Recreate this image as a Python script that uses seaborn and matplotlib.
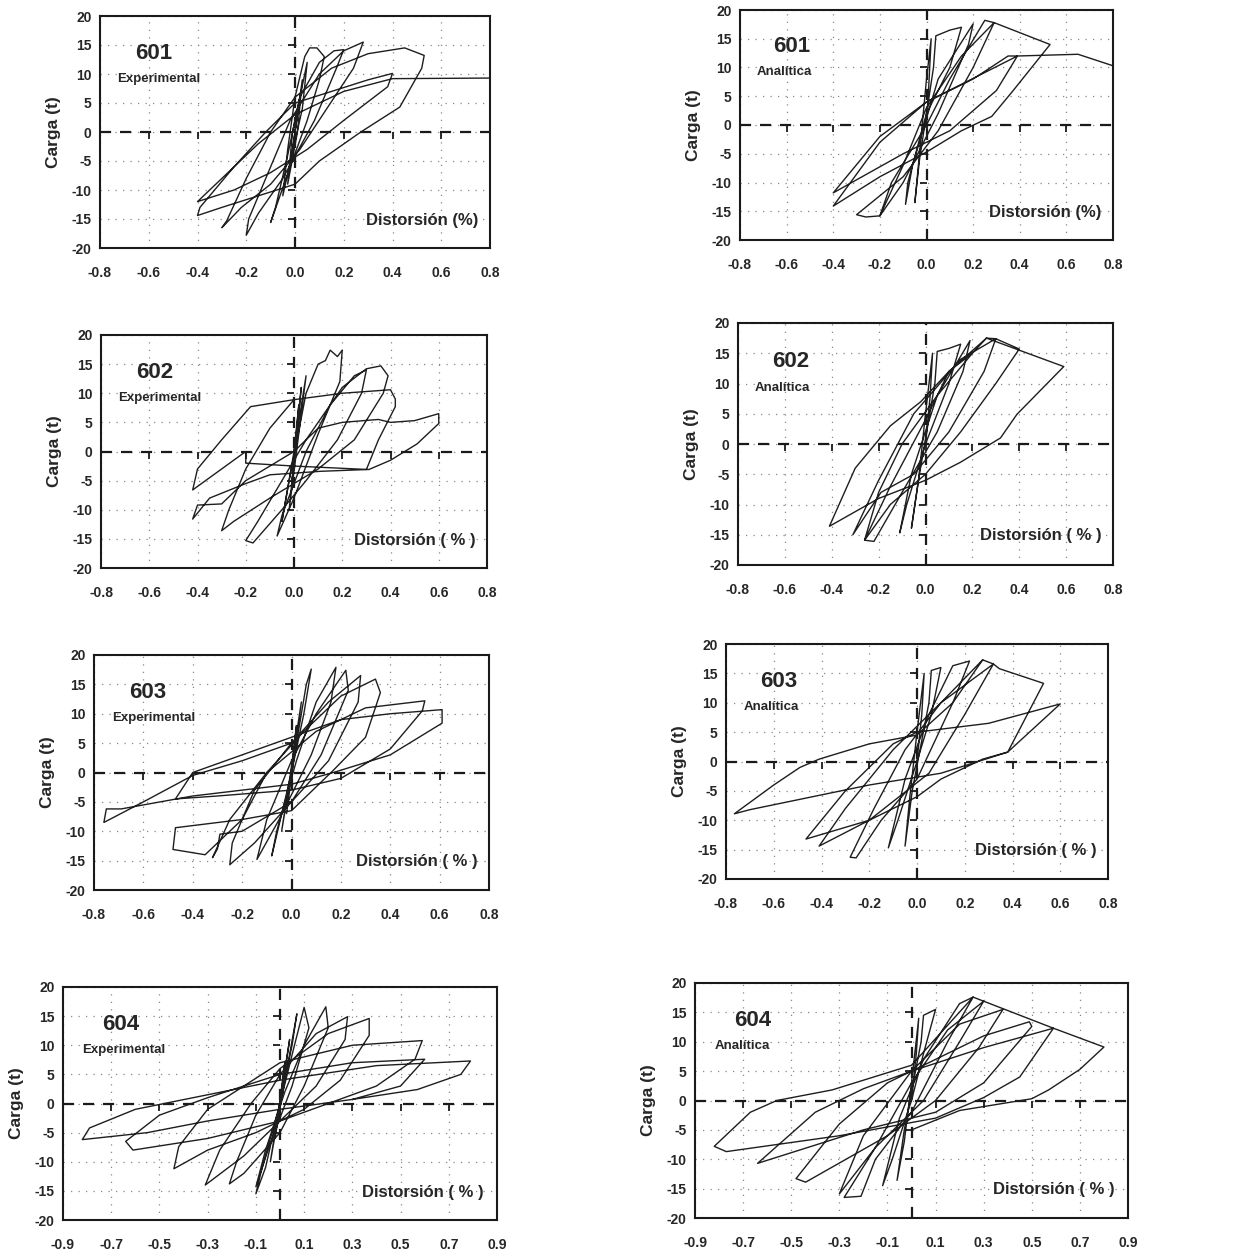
import matplotlib
matplotlib.use("Agg")
import matplotlib.pyplot as plt
import seaborn as sns
import pandas as pd

sns.set_theme(style="white")
plt.rcParams['font.family'] = ['Liberation Sans', 'DejaVu Sans']
plt.rcParams['font.weight'] = 'bold'
plt.rcParams['axes.unicode_minus'] = False

# hysteresis loops: (distorsion %, carga t)
loop_601_exp = [
    (0, 0), (0.02, 6), (0.0, 0), (-0.02, -6), (0.0, 0),
    (0.03, 9), (0.01, 0), (-0.03, -9), (-0.01, 0),
    (0.05, 12), (0.03, 4), (-0.05, -11), (-0.03, -3),
    (0.0, 6), (0.04, 13), (0.06, 14.5), (0.09, 14.5), (0.12, 13), (0.1, 9), (0.05, 2),
    (-0.02, -6), (-0.07, -12), (-0.1, -15.6), (-0.08, -13), (-0.03, -4),
    (0.02, 6), (0.1, 12), (0.16, 14), (0.2, 14.2), (0.17, 11), (0.08, 2), (-0.05, -8),
    (-0.15, -14), (-0.2, -17.8), (-0.19, -15), (-0.12, -8), (-0.02, 2),
    (0.1, 10), (0.2, 14), (0.28, 15.5), (0.24, 11), (0.13, 4), (0.02, -3), (-0.1, -9),
    (-0.22, -13), (-0.3, -16.5), (-0.28, -15.3), (-0.2, -8), (-0.1, 0), (0.0, 6),
    (0.15, 11), (0.3, 13.5), (0.45, 14.5), (0.53, 13.2), (0.52, 11), (0.43, 4.3), (0.27, 0),
    (0.1, -5), (0.0, -9), (-0.15, -11), (-0.3, -13), (-0.4, -14.4), (-0.39, -13),
    (-0.25, -6), (-0.12, 0), (0.0, 5),
    (0.15, 7), (0.3, 9), (0.4, 10.1), (0.38, 7.8), (0.2, 2), (0.05, -3), (-0.1, -7),
    (-0.25, -10), (-0.4, -12), (-0.3, -8), (-0.15, -2), (0.0, 3), (0.2, 7), (0.4, 9.2), (0.8, 9.3),
]

loop_601_ana = [
    (0, 0), (0.01, 7), (0.02, 15), (0.0, 8), (-0.03, -5), (-0.05, -13.5), (-0.03, -6),
    (0.03, 10), (0.04, 15.5), (0.1, 16.5), (0.15, 17), (0.1, 10), (0.0, 2), (-0.08, -10),
    (-0.09, -13.8), (-0.06, -7), (0.05, 8), (0.2, 17.6), (0.18, 14), (0.05, 2), (-0.1, -10),
    (-0.2, -15.8), (-0.15, -10), (0.0, 0), (0.1, 8), (0.25, 18.2), (0.29, 17.8), (0.2, 10),
    (0.05, -1), (-0.1, -9), (-0.3, -15.6), (-0.26, -16), (-0.2, -15.8), (-0.1, -7), (0.0, 3),
    (0.15, 12), (0.29, 17.8), (0.53, 14), (0.37, 5.9), (0.28, 1.5), (0.15, -1), (0.0, -4.7),
    (-0.2, -9), (-0.4, -14.1), (-0.2, -3), (0.0, 4), (0.2, 8), (0.35, 12), (0.39, 12),
    (0.3, 6), (0.1, -1), (-0.1, -5), (-0.4, -11.8), (-0.2, -2), (0.0, 4), (0.39, 12),
    (0.65, 12.3), (0.8, 10.3),
]

loop_602_exp = [
    (0, 0), (0.02, 8), (-0.01, -6), (0.03, 11), (-0.02, -10), (0.05, 13), (0.0, 0),
    (-0.05, -12), (-0.02, -5), (0.05, 10), (0.1, 15), (0.13, 15.6), (0.15, 17.4),
    (0.18, 16.3), (0.2, 17.4), (0.19, 12), (0.1, 3), (0.0, -8), (-0.07, -14.5), (-0.05, -11),
    (0.05, 0), (0.15, 8), (0.25, 13), (0.3, 14), (0.28, 10), (0.18, 2), (0.05, -5),
    (-0.05, -10), (-0.17, -15.7), (-0.2, -15.3), (-0.15, -12), (-0.05, -5), (0.05, 2),
    (0.2, 11), (0.3, 14.2), (0.36, 14.7), (0.39, 13), (0.37, 10), (0.25, 2), (0.1, -3),
    (-0.1, -8), (-0.25, -12), (-0.3, -13.6), (-0.27, -10), (-0.2, -3), (-0.1, 4), (0.0, 8.9),
    (0.2, 10), (0.4, 10.6), (0.42, 9), (0.42, 7.7), (0.35, 2), (0.3, -3.1), (0.11, -3.4),
    (-0.1, -4), (-0.2, -5.5), (-0.35, -8), (-0.42, -11.6), (-0.4, -9.2), (-0.3, -9),
    (-0.2, -5), (0.0, 0), (0.1, 4), (0.2, 5), (0.35, 5.5), (0.4, 5), (0.5, 5.3), (0.6, 6.5),
    (0.6, 4.8), (0.51, 1.3), (0.4, -1.5), (0.31, -3.1), (0.0, -2.5), (-0.2, -2), (-0.2, 0),
    (-0.3, -3), (-0.42, -6.6), (-0.4, -3), (-0.3, 2), (-0.18, 7.7), (0.0, 8.9),
]

loop_602_ana = [
    (0, 0), (0.02, 8), (0.03, 15), (0.0, 5), (-0.03, -6), (-0.06, -13.9), (-0.03, -6),
    (0.04, 10), (0.05, 15.3), (0.1, 15.8), (0.15, 16.5), (0.1, 10), (0.0, 0), (-0.08, -10),
    (-0.11, -14.7), (-0.06, -5), (0.05, 8), (0.19, 17.1), (0.16, 12), (0.05, 2), (-0.1, -8),
    (-0.22, -16.1), (-0.26, -15.9), (-0.15, -7), (0.0, 4), (0.1, 12), (0.26, 17.5),
    (0.3, 17.4), (0.25, 12), (0.1, 2), (-0.05, -5), (-0.19, -8), (-0.31, -15), (-0.2, -6),
    (-0.05, 5), (0.15, 14), (0.3, 17.4), (0.4, 15.7), (0.3, 10), (0.15, 2), (0.0, -5),
    (-0.15, -10), (-0.26, -15.9), (-0.2, -8), (-0.1, 0), (0.05, 8), (0.2, 15), (0.26, 17.5),
    (0.59, 12.8), (0.39, 4.9), (0.32, 1), (0.15, -3), (0.0, -6), (-0.2, -9), (-0.41, -13.6),
    (-0.3, -4), (-0.15, 3), (-0.02, 7), (0.1, 12), (0.2, 15),
]

loop_603_exp = [
    (0, 0), (0.02, 8), (-0.02, -7), (0.04, 12), (-0.04, -10), (0.06, 15), (0.08, 17.6),
    (0.05, 10), (0.0, 0), (-0.08, -14.2), (-0.06, -10), (0.02, 2), (0.1, 12), (0.18, 17.9),
    (0.16, 12), (0.08, 3), (-0.05, -8), (-0.14, -14.8), (-0.1, -8), (0.0, 2), (0.1, 10),
    (0.22, 17.4), (0.23, 14), (0.12, 3), (0.0, -5), (-0.15, -12), (-0.25, -15.7),
    (-0.24, -12), (-0.15, -3), (0.0, 5), (0.15, 12), (0.28, 16.5), (0.27, 12), (0.15, 2),
    (0.0, -5), (-0.2, -10), (-0.29, -10.5), (-0.3, -13), (-0.32, -14.5), (-0.25, -8),
    (-0.1, 0), (0.05, 7), (0.2, 13), (0.34, 15.9), (0.36, 13.6), (0.3, 6), (0.17, 0.4),
    (0.0, -6.5), (-0.2, -8), (-0.47, -9.4), (-0.48, -13.1), (-0.35, -14), (-0.2, -8),
    (-0.1, 0), (0.1, 7), (0.3, 11), (0.54, 12.2), (0.53, 10.5), (0.4, 4), (0.2, -1),
    (0.0, -3), (-0.3, -4), (-0.47, -4.5), (-0.4, 0), (-0.2, 3), (0.0, 6), (0.2, 9),
    (0.4, 10), (0.61, 10.7), (0.61, 8.4), (0.4, 3), (0.17, 0), (0.0, -2), (-0.4, -4),
    (-0.69, -6.2), (-0.75, -6.2), (-0.76, -8.5), (-0.6, -5), (-0.4, -0.5), (-0.2, 2), (0.0, 5),
]

loop_603_ana = [
    (0, 0), (0.02, 8), (0.03, 15), (0.0, 5), (-0.03, -6), (-0.05, -14.4), (-0.02, -5),
    (0.05, 10), (0.06, 15.5), (0.1, 16), (0.06, 8), (0.0, 0), (-0.08, -10), (-0.12, -14.7),
    (-0.05, -3), (0.05, 8), (0.15, 16.3), (0.22, 17.1), (0.15, 10), (0.0, -3), (-0.15, -10),
    (-0.255, -16.4), (-0.28, -16.3), (-0.18, -8), (-0.05, 2), (0.1, 10), (0.275, 17.3),
    (0.32, 16.6), (0.2, 8), (0.05, -2), (-0.2, -10), (-0.41, -14.4), (-0.3, -8), (-0.1, 2),
    (0.1, 10), (0.32, 16.6), (0.345, 15.8), (0.53, 13.3), (0.38, 1.6), (0.275, 0.4),
    (0.1, -3), (0.0, -6), (-0.2, -10), (-0.465, -13.2), (-0.3, -5), (-0.1, 3), (0.0, 5),
    (0.3, 6.5), (0.6, 9.8), (0.38, 1.6), (0.1, -2), (-0.2, -4), (-0.7, -8.2), (-0.765, -8.9),
    (-0.6, -4), (-0.49, -1), (-0.41, 0.4), (-0.2, 3), (0.0, 4.5), (0.15, 10), (0.275, 17.3),
]

loop_604_exp = [
    (0, 0), (0.02, 7), (-0.02, -6), (0.04, 11), (-0.04, -10), (0.07, 15.4), (0.05, 10),
    (0.0, 0), (-0.06, -11), (-0.1, -15.5), (-0.08, -12), (0.0, 0), (0.06, 10), (0.1, 16.5),
    (0.12, 13), (0.05, 3), (-0.05, -8), (-0.1, -14.3), (-0.06, -8), (0.02, 2), (0.1, 10),
    (0.19, 16.6), (0.2, 13), (0.1, 3), (0.0, -5), (-0.15, -12), (-0.21, -13.8), (-0.18, -10),
    (-0.1, -2), (0.0, 5), (0.15, 12), (0.28, 14.9), (0.27, 11), (0.15, 3), (0.0, -3),
    (-0.15, -9), (-0.31, -14), (-0.25, -8), (-0.12, 0), (0.0, 6), (0.2, 12), (0.37, 14.6),
    (0.37, 11.7), (0.25, 4), (0.1, -1), (-0.1, -5), (-0.3, -8), (-0.44, -11.2), (-0.42, -7.4),
    (-0.3, -1), (-0.15, 3), (0.0, 7), (0.3, 10), (0.59, 10.8), (0.56, 7.6), (0.4, 3),
    (0.2, 0), (0.0, -3), (-0.3, -6), (-0.61, -8), (-0.64, -6.5), (-0.5, -2), (-0.3, 1),
    (0.0, 5), (0.3, 7), (0.6, 7.6), (0.5, 3), (0.3, 0.7), (0.0, -1), (-0.3, -3),
    (-0.55, -5), (-0.82, -6.2), (-0.79, -4.2), (-0.6, -1), (-0.3, 1.5), (0.0, 4), (0.4, 6.5),
    (0.79, 7.3), (0.75, 5), (0.57, 2.4), (0.3, 0.7),
]

loop_604_ana = [
    (0, 0), (0.02, 8), (0.03, 14), (0.0, 3), (-0.03, -7), (-0.06, -13.6), (-0.03, -5),
    (0.04, 10), (0.05, 14.5), (0.1, 15.5), (0.05, 8), (0.0, 0), (-0.08, -10), (-0.12, -14.5),
    (-0.05, -3), (0.05, 7), (0.2, 16.5), (0.256, 17.6), (0.15, 10), (0.0, -2), (-0.15, -10),
    (-0.21, -16.3), (-0.28, -16.5), (-0.15, -8), (0.0, 3), (0.15, 12), (0.3, 16.9),
    (0.2, 10), (0.05, 0), (-0.15, -8), (-0.3, -15.9), (-0.2, -6), (0.0, 5), (0.2, 13),
    (0.38, 15.5), (0.28, 9), (0.1, 0), (-0.1, -6), (-0.44, -13.9), (-0.48, -13.3),
    (-0.3, -4), (-0.1, 3), (0.1, 7), (0.3, 11), (0.49, 13.4), (0.5, 12.6), (0.3, 3),
    (0.1, -2), (-0.2, -5), (-0.64, -10.7), (-0.4, -2), (-0.2, 2), (0.0, 5), (0.3, 9),
    (0.59, 12.3), (0.45, 4), (0.3, 0.5), (0.1, -3), (-0.3, -6), (-0.77, -8.7),
    (-0.82, -7.8), (-0.67, -2), (-0.56, 0), (-0.33, 1.8), (0.0, 6), (0.256, 17.6),
    (0.59, 12.3), (0.8, 9.1), (0.7, 5.3), (0.57, 1.8), (0.5, 0.3), (0.2, -1.7), (0.0, -5),
]

xticks_08 = [-0.8, -0.6, -0.4, -0.2, 0.0, 0.2, 0.4, 0.6, 0.8]
xticks_09 = [-0.9, -0.7, -0.5, -0.3, -0.1, 0.1, 0.3, 0.5, 0.7, 0.9]
yticks = [-20, -15, -10, -5, 0, 5, 10, 15, 20]

W, H = 1247, 1255
fig = plt.figure(figsize=(W / 100, H / 100), dpi=100)

# each panel: data, specimen, kind, x label, box in pixels (left, top, right, bottom), x ticks
panels = [
    (loop_601_exp, "601", "Experimental", "Distorsión (%)", (100, 16, 490, 248), xticks_08),
    (loop_601_ana, "601", "Analítica", "Distorsión (%)", (740, 10, 1113, 240), xticks_08),
    (loop_602_exp, "602", "Experimental", "Distorsión ( % )", (101, 335, 487, 568), xticks_08),
    (loop_602_ana, "602", "Analítica", "Distorsión ( % )", (738, 323, 1113, 565), xticks_08),
    (loop_603_exp, "603", "Experimental", "Distorsión ( % )", (94, 655, 489, 890), xticks_08),
    (loop_603_ana, "603", "Analítica", "Distorsión ( % )", (726, 644, 1108, 879), xticks_08),
    (loop_604_exp, "604", "Experimental", "Distorsión ( % )", (63, 987, 497, 1220), xticks_09),
    (loop_604_ana, "604", "Analítica", "Distorsión ( % )", (695, 983, 1128, 1218), xticks_09),
]

for pts, num, kind, dist, box, xt in panels:
    l, t, r, b = box
    ax = fig.add_axes([l / W, 1 - b / H, (r - l) / W, (b - t) / H])
    df = pd.DataFrame(pts, columns=["dist", "carga"])
    sns.lineplot(data=df, x="dist", y="carga", sort=False, estimator=None,
                 color="#1e1e1e", lw=1.0, ax=ax)

    ax.set_xlim(xt[0], xt[-1])
    ax.set_ylim(-20, 20)
    ax.set_xticks(xt)
    ax.set_xticklabels([f"{v:.1f}" for v in xt])
    ax.set_yticks(yticks)
    ax.grid(True, ls=(0, (1, 5)), color="#888888", lw=0.9)

    # dashed zero axes with small ticks at grid positions
    ax.axhline(0, color="k", ls=(0, (5, 4)), lw=1.6, zorder=1)
    ax.axvline(0, color="k", ls=(0, (5, 4)), lw=1.6, zorder=1)
    ax.plot(xt, [0] * len(xt), ls="none", marker=3, ms=5, mew=1.3, color="k")
    ax.plot([0] * len(yticks), yticks, ls="none", marker=0, ms=5, mew=1.3, color="k")

    ax.tick_params(axis="x", length=0, pad=13, labelsize=10)
    ax.tick_params(axis="y", length=0, pad=6, labelsize=10)
    for lab in ax.get_xticklabels() + ax.get_yticklabels():
        lab.set_fontweight("bold")
    ax.set_xlabel("")
    ax.set_ylabel("Carga (t)", fontsize=12.5, fontweight="bold", labelpad=8)
    for s in ax.spines.values():
        s.set_color("k")
        s.set_linewidth(1.5)

    ax.text(0.09, 0.84, num, transform=ax.transAxes, fontsize=16, fontweight="bold",
            ha="left", va="center")
    ax.text(0.045, 0.73, kind, transform=ax.transAxes, fontsize=9.5, fontweight="bold",
            ha="left", va="center")
    ax.text(0.97, 0.12, dist, transform=ax.transAxes, fontsize=12, fontweight="bold",
            ha="right", va="center")

fig.savefig("out.png", dpi=100, facecolor="white")
